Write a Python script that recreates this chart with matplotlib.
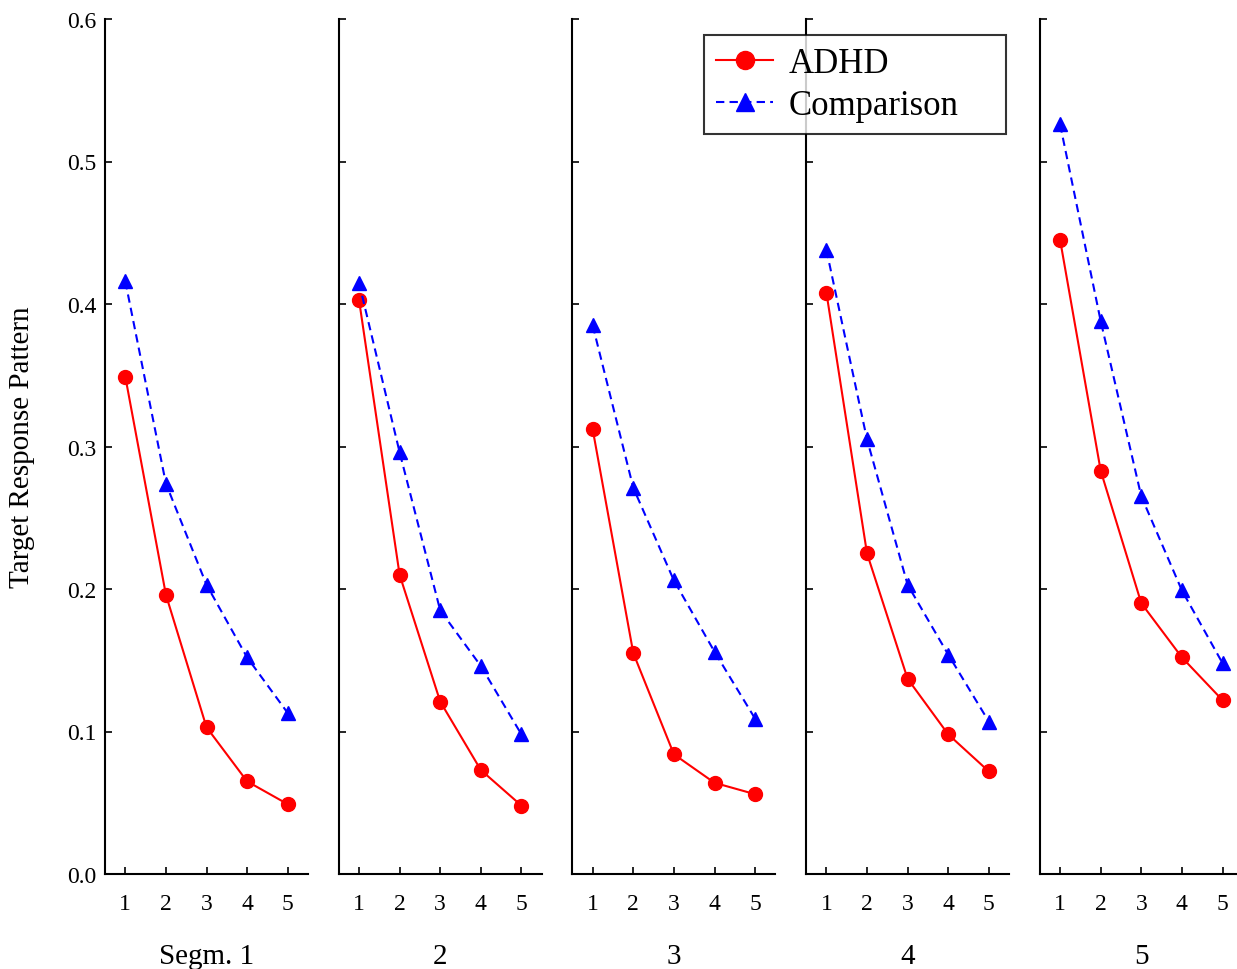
import matplotlib
matplotlib.use("Agg")
import matplotlib.pyplot as plt
from matplotlib.ticker import FormatStrFormatter

plt.rcParams["font.family"] = ["Liberation Serif", "DejaVu Serif"]

blocks = [1, 2, 3, 4, 5]
segment_labels = ["Segm. 1", "2", "3", "4", "5"]

adhd = [
    [0.349, 0.196, 0.103, 0.065, 0.049],
    [0.403, 0.210, 0.121, 0.073, 0.048],
    [0.312, 0.155, 0.084, 0.064, 0.056],
    [0.408, 0.225, 0.137, 0.098, 0.072],
    [0.445, 0.283, 0.190, 0.152, 0.122],
]
comparison = [
    [0.416, 0.274, 0.203, 0.152, 0.113],
    [0.415, 0.296, 0.185, 0.146, 0.098],
    [0.385, 0.271, 0.206, 0.156, 0.109],
    [0.438, 0.305, 0.203, 0.154, 0.107],
    [0.526, 0.388, 0.265, 0.199, 0.148],
]

fig = plt.figure(figsize=(12.37, 9.70), dpi=100)

W, H = 1237, 970
left0, step, width = 105, 233.7, 203
bottom_px, top_px = 875, 20

handles = None
for i in range(5):
    x0 = left0 + i * step
    ax = fig.add_axes([x0 / W, 1 - bottom_px / H, width / W, (bottom_px - top_px) / H])
    l1, = ax.plot(blocks, adhd[i], color="red", lw=1.5, marker="o", ms=10,
                  label="ADHD")
    l2, = ax.plot(blocks, comparison[i], color="blue", lw=1.5, ls=(0, (4, 2.5)),
                  marker="^", ms=10, label="Comparison")
    handles = [l1, l2]
    ax.set_xlim(0.5, 5.5)
    ax.set_ylim(0, 0.6)
    ax.set_xticks(blocks)
    ax.set_yticks([0, 0.1, 0.2, 0.3, 0.4, 0.5, 0.6])
    ax.yaxis.set_major_formatter(FormatStrFormatter("%.1f"))
    for side in ("top", "right"):
        ax.spines[side].set_visible(False)
    for side in ("left", "bottom"):
        ax.spines[side].set_linewidth(1.5)
    ax.tick_params(direction="in", length=5, width=1.2, labelsize=17, pad=14)
    ax.tick_params(axis="y", pad=6)
    if i > 0:
        ax.tick_params(axis="y", labelleft=False)
    fig.text((x0 + width / 2) / W, 1 - 957 / H, segment_labels[i],
             ha="center", va="center", fontsize=21)

fig.text(22 / W, 1 - 447 / H, "Target Response Pattern", rotation=90,
         ha="center", va="center", fontsize=21)

# legend box spans roughly x 704..1006, y 36..132 px
leg = fig.legend(handles=handles, loc="upper left", mode="expand",
                 bbox_to_anchor=(704 / W, 1 - 132 / H, 302 / W, 96 / H),
                 fontsize=25, frameon=True, fancybox=False, edgecolor="black",
                 handlelength=1.65, borderpad=0.35, labelspacing=0.25,
                 handletextpad=0.45, borderaxespad=0, markerscale=1.3)
leg.get_frame().set_linewidth(1.5)

fig.savefig("out.png", dpi=100)
